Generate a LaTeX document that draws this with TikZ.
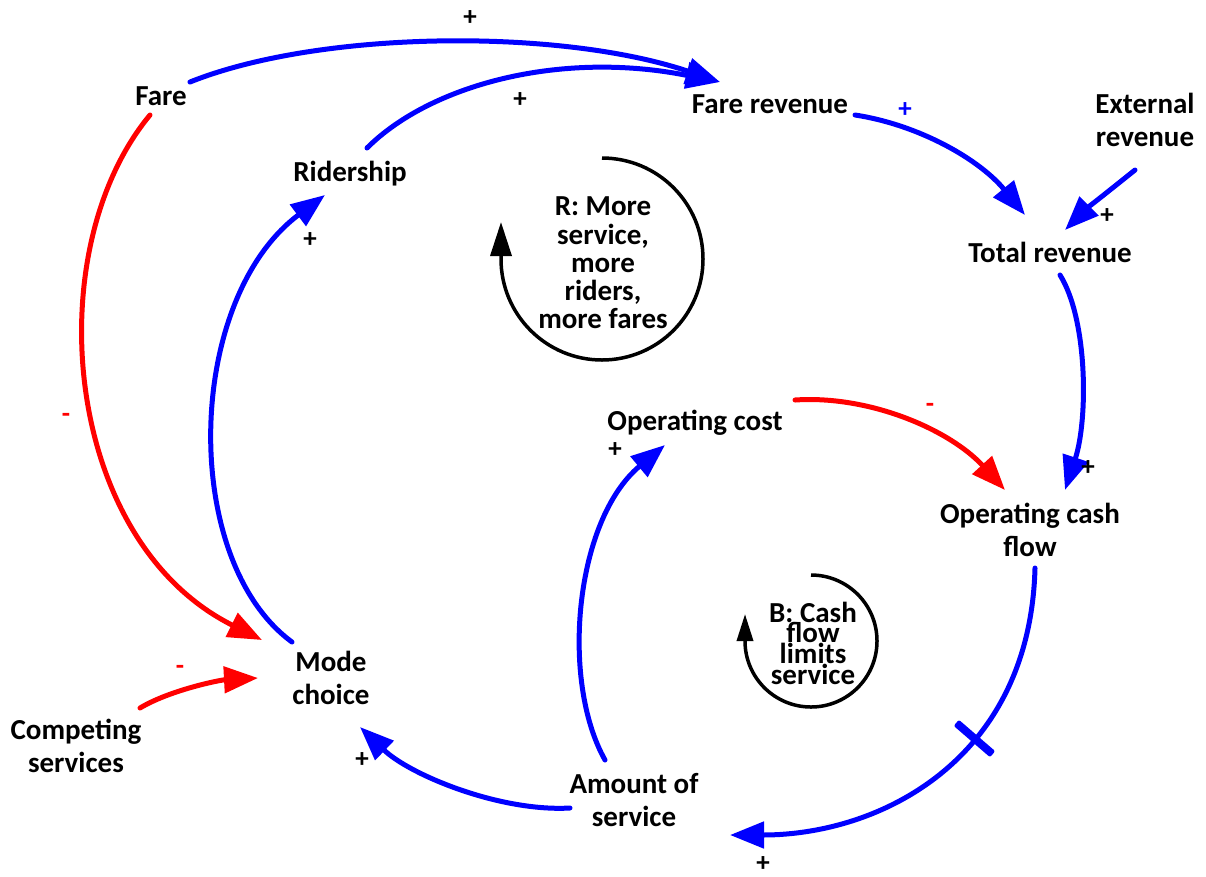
\documentclass[tikz,border=0pt]{standalone}
\usepackage{fontspec}
\setmainfont{Carlito}
\usetikzlibrary{arrows.meta,calc}
\definecolor{linkblue}{RGB}{0,0,255}
\definecolor{linkred}{RGB}{255,0,0}
\newcommand{\cldfont}{\fontsize{29}{33}\selectfont\bfseries}
\tikzset{
  var/.style={font=\cldfont, inner sep=0pt, align=center},
  varone/.style={var, text height=18pt, text depth=0pt},
  looptext/.style={font=\fontsize{29}{28.3}\selectfont\bfseries, inner sep=0pt, align=center},
  looptextB/.style={font=\fontsize{29}{20.7}\selectfont\bfseries, inner sep=0pt, align=center},
  plink/.style={draw=linkblue, line width=5pt, line cap=round, -{Triangle[length=34pt,width=26pt]}},
  nlink/.style={draw=linkred, line width=5pt, line cap=round, -{Triangle[length=34pt,width=26pt]}},
  loopline/.style={draw=black, line width=3.5pt, -{Triangle[length=34pt,width=21pt]}},
  loopsmall/.style={draw=black, line width=3.5pt, -{Triangle[length=27pt,width=16pt]}},
  sign/.style={font=\fontsize{27}{30}\selectfont\bfseries, inner sep=0pt},
  delaymark/.style={fill=linkblue, minimum width=8pt, minimum height=48pt, inner sep=0pt, rounded corners=2pt}
}
\begin{document}
\begin{tikzpicture}[x=1pt,y=-1pt]
  \fill[white] (0,0) rectangle (1206,876);
  \useasboundingbox (0,0) rectangle (1206,876);

  % variables
  \node[varone] (fare)    at (161,96)   {Fare};
  \node[varone] (farerev) at (770,104)  {Fare revenue};
  \node[var]    (extrev)  at (1145,120) {External\\revenue};
  \node[varone] (rider)   at (350,172)  {Ridership};
  \node[varone] (totrev)  at (1050,253) {Total revenue};
  \node[varone] (opcost)  at (695,421)  {Operating cost};
  \node[var]    (opcash)  at (1030,530) {Operating cash\\flow};
  \node[var]    (mode)    at (331,678)  {Mode\\choice};
  \node[var]    (comp)    at (76,746)   {Competing\\services};
  \node[var]    (amount)  at (634,800)  {Amount of\\service};

  % loop labels
  \node[looptext]  (rloop) at (603,263) {R: More\\service,\\more\\riders,\\more fares};
  \node[looptextB] (bloop) at (813,643) {B: Cash\\flow\\limits\\service};

  % loop markers
  \draw[loopline] ($(rloop)+(-1,-105)$) arc[start angle=-90, end angle=180, radius=101] -- ++(0,-37);
  \draw[loopsmall] ($(bloop)+(-2,-68)$) arc[start angle=-90, end angle=180, radius=66] -- ++(0,-27);

  % causal links
  \draw[plink] ($(fare)+(29,-14)$) .. controls (320,30) and (560,28) .. ($(farerev)+(-50,-22)$);
  \draw[plink] ($(rider)+(17,-24)$) .. controls (430,85) and (560,50) .. ($(farerev)+(-50,-22)$);
  \draw[plink] ($(farerev)+(85,11)$) .. controls (920,125) and (980,160) .. ($(totrev)+(-25,-38)$);
  \draw[plink] ($(extrev)+(-10,50)$) .. controls (1110,190) and (1085,210) .. ($(totrev)+(15,-23)$);
  \draw[plink] ($(totrev)+(10,22)$) .. controls (1088,320) and (1088,420) .. ($(opcash)+(35,-40)$);
  \draw[nlink] ($(opcost)+(100,-21)$) .. controls (870,395) and (950,430) .. ($(opcash)+(-25,-40)$);
  \draw[plink] ($(opcash)+(5,38)$) .. controls (1030,760) and (880,835) .. ($(amount)+(96,35)$)
    node[sloped, pos=0.38, delaymark] (delay) {};
  \draw[plink] ($(amount)+(-64,8)$) .. controls (500,812) and (410,775) .. ($(mode)+(29,49)$);
  \draw[plink] ($(amount)+(-29,-40)$) .. controls (560,680) and (575,520) .. ($(opcost)+(-30,24)$);
  \draw[plink] ($(mode)+(-39,-36)$) .. controls (180,560) and (185,300) .. ($(rider)+(-25,23)$);
  \draw[nlink] ($(fare)+(-11,19)$) .. controls (38,250) and (62,540) .. ($(mode)+(-69,-38)$);
  \draw[nlink] ($(comp)+(64,-38)$) .. controls (170,690) and (220,680) .. ($(mode)+(-73,0)$);

  % link polarities
  \node[sign] (s1) at (470,18) {+};
  \node[sign] (s2) at (520,100) {+};
  \node[sign, text=linkblue] (s3) at (905,110) {+};
  \node[sign] (s4) at (1107,216) {+};
  \node[sign] (s5) at (1088,468) {+};
  \node[sign, text=linkred] (s6) at (930,408) {-};
  \node[sign] (s7) at (615,450) {+};
  \node[sign] (s8) at (310,240) {+};
  \node[sign, text=linkred] (s9) at (66,418) {-};
  \node[sign, text=linkred] (s10) at (180,670) {-};
  \node[sign] (s11) at (362,760) {+};
  \node[sign] (s12) at (763,864) {+};
\end{tikzpicture}
\end{document}
